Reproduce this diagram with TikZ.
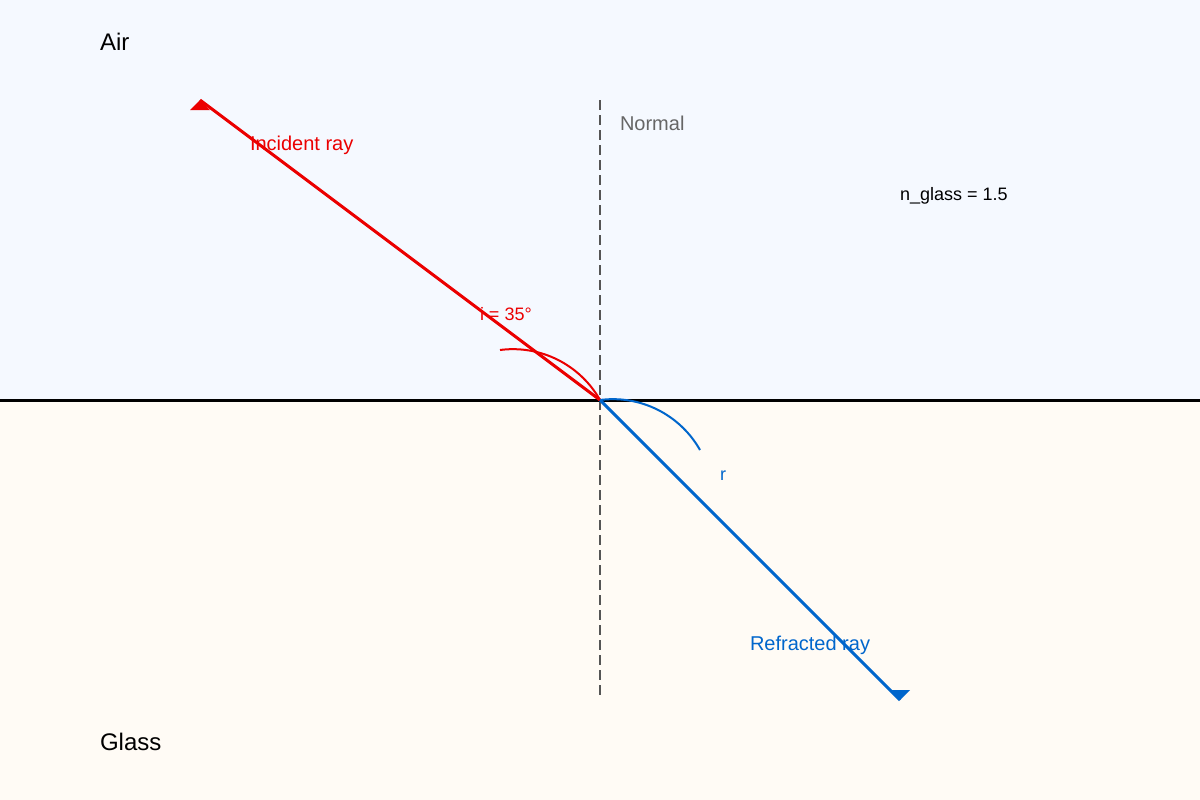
\documentclass[tikz,border=0pt]{standalone}
\usepackage{fontspec}
\setmainfont{Liberation Sans}
\definecolor{airbg}{RGB}{245,249,255}
\definecolor{glassbg}{RGB}{255,251,245}
\definecolor{rayred}{RGB}{235,0,0}
\definecolor{rayblue}{RGB}{0,102,204}
\definecolor{normalgray}{RGB}{85,85,85}
\definecolor{labelgray}{RGB}{102,102,102}
\tikzset{
  lbl/.style={anchor=base west, inner sep=0pt, outer sep=0pt},
  big/.style={font=\fontsize{18pt}{20pt}\selectfont},
  mid/.style={font=\fontsize{15pt}{17pt}\selectfont},
  small/.style={font=\fontsize{13.5pt}{15pt}\selectfont},
  ray/.style={line width=2.25pt},
}
\begin{document}
\begin{tikzpicture}[x=0.75pt,y=-0.75pt]
\useasboundingbox (0,0) rectangle (1200,800);
\fill[airbg] (0,0) rectangle (1200,400);
\fill[glassbg] (0,400) rectangle (1200,800);
\coordinate (O) at (600,400);
\coordinate (inc) at (200,100);
\coordinate (ref) at (900,700);
\coordinate (ntop) at (600,100);
\coordinate (nbot) at (600,700);
\coordinate (sl) at (0,400);
\coordinate (sr) at (1200,400);
% normal
\draw[normalgray, line width=1.5pt, dash pattern=on 7.5pt off 3.75pt] (ntop) -- (nbot);
% surface
\draw[black, line width=2.25pt] (sl) -- (sr);
% rays
\draw[ray, rayred] (inc) -- (O);
\draw[ray, rayblue] (O) -- (ref);
% arrow heads
\fill[rayred] (190,110) -- (210,110) -- (inc) -- cycle;
\fill[rayblue] (890,690) -- (910,690) -- (ref) -- cycle;
% angle arcs
\draw[rayred, line width=1.5pt] plot[domain=-97.42:-29.44, samples=40] ({512.92+100*cos(\x)},{449.16+100*sin(\x)});
\draw[rayblue, line width=1.5pt] plot[domain=-97.42:-29.44, samples=40] ({612.92+100*cos(\x)},{499.16+100*sin(\x)});
% labels
\node[lbl, big] (air) at (100,50) {Air};
\node[lbl, big] (glass) at (100,750) {Glass};
\node[lbl, mid, text=labelgray] (nlabel) at (620,130) {Normal};
\node[lbl, mid, text=rayred] (ilabel) at (250,150) {Incident ray};
\node[lbl, small, text=rayred] (iang) at (480,320) {i = 35°};
\node[lbl, small, text=rayblue] (rang) at (720,480) {r};
\node[lbl, mid, text=rayblue] (rlabel) at (750,650) {Refracted ray};
\node[lbl, small] (nglass) at (900,200) {n\_glass = 1.5};
\end{tikzpicture}
\end{document}
